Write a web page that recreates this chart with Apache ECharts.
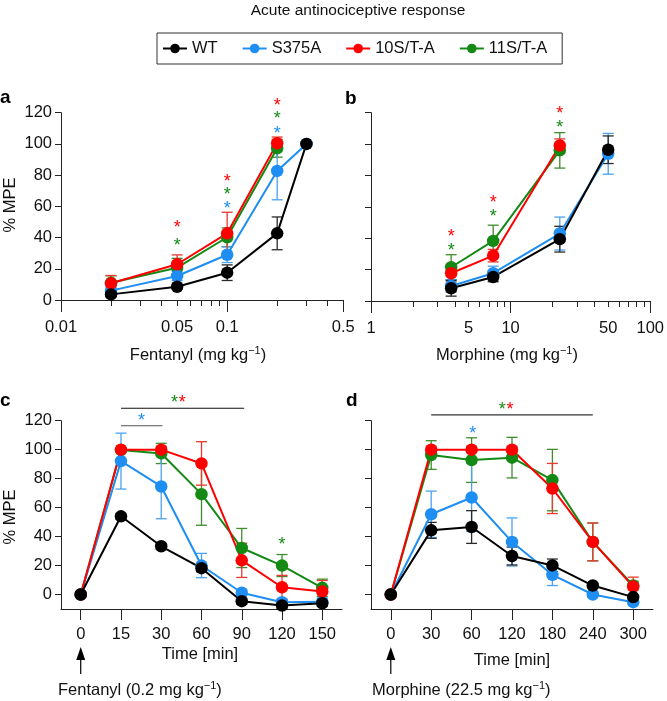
<!DOCTYPE html>
<html>
<head>
<meta charset="utf-8">
<script src="https://cdn.jsdelivr.net/npm/echarts@6/dist/echarts.min.js"></script>
<style>
  html, body { margin: 0; padding: 0; background: #fff; }
  #chart { width: 667px; height: 701px; }
</style>
</head>
<body>
<div id="chart"></div>
<script>
// ---- data ----
const groups = ['WT', 'S375A', '10S/T-A', '11S/T-A'];

// a: fentanyl dose response (% MPE, mean and SEM)
const fentDose = [0.02, 0.05, 0.1, 0.2, 0.3];
const fentWT = [3.6, 8.5, 17.5, 42.7, 100];
const fentWTerr = [1.5, 1.5, 5, 10.5, 0];
const fentS375A = [6, 15.4, 29, 82.7, 100];
const fentS375Aerr = [2, 3, 5, 18.5, 0];
const fent10ST = [10.7, 22.9, 42.7, 100.4, null];
const fent10STerr = [5, 6, 13.5, 4, 0];
const fent11ST = [11, 20.7, 40.2, 97.2, null];
const fent11STerr = [4.5, 6, 6, 5.7, 0];
const fentTickLabels = [0.01, 0.05, 0.1, 0.5];
const fentMajorTicks = [0.01, 0.1, 0.5];
const fentMinorTicks = [0.02, 0.03, 0.04, 0.05, 0.06, 0.07, 0.08, 0.09, 0.2, 0.3, 0.4];

// b: morphine dose response
const morphDose = [3.75, 7.5, 22.5, 50];
const morphWT = [8.1, 15.3, 39.4, 96.4];
const morphWTerr = [5, 3, 8.2, 8.8];
const morphS375A = [9.6, 17.7, 43, 93.8];
const morphS375Aerr = [4, 4.5, 10.5, 13];
const morph10ST = [17.7, 28.9, 99.1, null];
const morph10STerr = [5.6, 4, 4.2, 0];
const morph11ST = [21.5, 38.3, 96, null];
const morph11STerr = [8, 10, 11.3, 0];
const morphTickLabels = [1, 5, 10, 50, 100];
const morphMajorTicks = [1, 10, 100];
const morphMinorTicks = [2, 3, 4, 5, 6, 7, 8, 9, 20, 30, 40, 50, 60, 70, 80, 90];

// c: fentanyl 0.2 mg/kg time course
const timeC = ['0', '15', '30', '60', '90', '120', '150'];
const cWT = [0, 54, 33.3, 18.2, -4.6, -7.6, -6];
const cWTerr = [0, 2, 2, 2.5, 2, 2, 2];
const cS375A = [0, 92.1, 74.6, 20, 1.2, -5.3, -5];
const cS375Aerr = [0, 19.3, 22.3, 8.4, 2, 2, 2];
const c10ST = [0, 100, 100, 90.5, 23.6, 5, 2];
const c10STerr = [0, 0, 2, 15, 11.8, 8.2, 7.7];
const c11ST = [0, 99.7, 97.4, 69.3, 32.1, 20, 4.6];
const c11STerr = [0, 1.5, 7, 21.5, 13.5, 7.6, 6];

// d: morphine 22.5 mg/kg time course
const timeD = ['0', '30', '60', '120', '180', '240', '300'];
const dWT = [0, 44.3, 46.6, 26.6, 20.1, 6.2, -1.8];
const dWTerr = [0, 5.5, 11.3, 6.2, 4.4, 1.5, 1.5];
const dS375A = [0, 55.4, 67, 36.3, 13.6, 0, -5.3];
const dS375Aerr = [0, 16, 23.5, 16.6, 7.4, 1.5, 1.5];
const d10ST = [0, 100, 100, 100, 73.2, 36.3, 5.5];
const d10STerr = [0, 2, 2, 2, 17.3, 13.1, 6.5];
const d11ST = [0, 96.3, 92.8, 94.5, 79, 36.3, 6.2];
const d11STerr = [0, 9.9, 15.4, 14, 21.2, 13, 3];

const yTicks = [0, 20, 40, 60, 80, 100, 120];

// significance stars: [x, y, group]
const starsA = [[0.05, 48.7, '10S/T-A'], [0.05, 37, '11S/T-A'],
  [0.1, 78.4, '10S/T-A'], [0.1, 70, '11S/T-A'], [0.1, 60.7, 'S375A'],
  [0.2, 127, '10S/T-A'], [0.2, 118.5, '11S/T-A'], [0.2, 109, 'S375A']];
const starsB = [[3.75, 43.2, '10S/T-A'], [3.75, 34.7, '11S/T-A'],
  [7.5, 65, '10S/T-A'], [7.5, 56, '11S/T-A'],
  [22.5, 122, '10S/T-A'], [22.5, 113, '11S/T-A']];
// time panels: x is the time point index
const starsC = [[1.51, 122.4, 'S375A'], [2.33, 135.2, '11S/T-A'], [2.52, 135.2, '10S/T-A'], [5, 36.7, '11S/T-A']];
const starsD = [[2.03, 113.6, 'S375A'], [2.76, 130, '11S/T-A'], [2.95, 130, '10S/T-A']];
// brackets: [from index, to index, y]
const bracketsC = [[1, 2.03, 116.5], [1, 4.06, 128.6]];
const bracketsD = [[1, 5, 124]];

// ---- styles ----
const FONT = "'Liberation Sans', Arial, Helvetica, sans-serif";
const FS = 16.5;
const drawOrder = ['11S/T-A', 'S375A', '10S/T-A', 'WT'];
const lineColors = { 'WT': '#000000', 'S375A': '#1E8EF2', '10S/T-A': '#FF0000', '11S/T-A': '#148A14' };
const errColors = { 'WT': '#2a2a2a', 'S375A': '#4aa2f0', '10S/T-A': '#e83a30', '11S/T-A': '#3f8c2c' };
const bracketColorsC = ['#555555', '#111111'];
const bracketColorsD = ['#333333'];
const axisColor = '#222';

const chart = echarts.init(document.getElementById('chart'));

const lg = Math.log10;
const idx = (arr) => arr.map((_, i) => i);

const panels = [
  { xi: 0, yi: 0, xs: fentDose.map(lg), tx: lg,
    vals: { 'WT': fentWT, 'S375A': fentS375A, '10S/T-A': fent10ST, '11S/T-A': fent11ST },
    errs: { 'WT': fentWTerr, 'S375A': fentS375Aerr, '10S/T-A': fent10STerr, '11S/T-A': fent11STerr },
    stars: starsA },
  { xi: 2, yi: 1, xs: morphDose.map(lg), tx: lg,
    vals: { 'WT': morphWT, 'S375A': morphS375A, '10S/T-A': morph10ST, '11S/T-A': morph11ST },
    errs: { 'WT': morphWTerr, 'S375A': morphS375Aerr, '10S/T-A': morph10STerr, '11S/T-A': morph11STerr },
    stars: starsB },
  { xi: 4, yi: 2, xs: idx(timeC), tx: v => v,
    vals: { 'WT': cWT, 'S375A': cS375A, '10S/T-A': c10ST, '11S/T-A': c11ST },
    errs: { 'WT': cWTerr, 'S375A': cS375Aerr, '10S/T-A': c10STerr, '11S/T-A': c11STerr },
    stars: starsC, brackets: bracketsC, bracketColors: bracketColorsC },
  { xi: 5, yi: 3, xs: idx(timeD), tx: v => v,
    vals: { 'WT': dWT, 'S375A': dS375A, '10S/T-A': d10ST, '11S/T-A': d11ST },
    errs: { 'WT': dWTerr, 'S375A': dS375Aerr, '10S/T-A': d10STerr, '11S/T-A': d11STerr },
    stars: starsD, brackets: bracketsD, bracketColors: bracketColorsD }
];

// error bar with caps
function errRenderer(color) {
  return function (params, api) {
    const x = api.value(0), y = api.value(1), e = api.value(2);
    if (!e) return null;
    const top = api.coord([x, y + e]);
    const bot = api.coord([x, y - e]);
    const hw = 5.5;
    const style = { stroke: color, lineWidth: 1.3 };
    return {
      type: 'group',
      children: [
        { type: 'line', shape: { x1: top[0], y1: top[1], x2: bot[0], y2: bot[1] }, style },
        { type: 'line', shape: { x1: top[0] - hw, y1: top[1], x2: top[0] + hw, y2: top[1] }, style },
        { type: 'line', shape: { x1: bot[0] - hw, y1: bot[1], x2: bot[0] + hw, y2: bot[1] }, style }
      ]
    };
  };
}

const series = [];
panels.forEach(p => {
  const pts = {};
  groups.forEach(g => {
    pts[g] = [];
    p.vals[g].forEach((v, i) => {
      if (v != null) pts[g].push([p.xs[i], v, p.errs[g][i] || 0]);
    });
  });
  drawOrder.forEach(g => {
    series.push({
      type: 'custom', name: g + ' sem', xAxisIndex: p.xi, yAxisIndex: p.yi,
      silent: true, z: 1, clip: false,
      data: pts[g], renderItem: errRenderer(errColors[g])
    });
  });
  drawOrder.forEach(g => {
    series.push({
      type: 'line', name: g, xAxisIndex: p.xi, yAxisIndex: p.yi,
      data: pts[g].map(d => [d[0], d[1]]),
      symbol: 'circle', symbolSize: 12.5, showSymbol: true,
      lineStyle: { color: lineColors[g], width: 2 },
      itemStyle: { color: lineColors[g] },
      emphasis: { disabled: true }, z: 3
    });
  });
  // stars
  series.push({
    type: 'custom', xAxisIndex: p.xi, yAxisIndex: p.yi, silent: true, z: 5, clip: false,
    data: p.stars.map(s => [p.tx(s[0]), s[1], groups.indexOf(s[2])]),
    renderItem: (params, api) => {
      const pt = api.coord([api.value(0), api.value(1)]);
      return {
        type: 'text', x: pt[0], y: pt[1] + 4,
        style: { text: '*', fill: lineColors[groups[api.value(2)]], font: '18px ' + FONT, align: 'center', verticalAlign: 'middle' }
      };
    }
  });
  if (p.brackets) {
    series.push({
      type: 'custom', xAxisIndex: p.xi, yAxisIndex: p.yi, silent: true, z: 5, clip: false,
      data: p.brackets.map((b, i) => [b[0], b[2], b[1], i]),
      renderItem: (params, api) => {
        const a = api.coord([api.value(0), api.value(1)]);
        const b = api.coord([api.value(2), api.value(1)]);
        return { type: 'line', shape: { x1: a[0], y1: a[1], x2: b[0], y2: b[1] },
          style: { stroke: p.bracketColors[api.value(3)], lineWidth: 1.2 } };
      }
    });
    // injection arrow under time 0
    series.push({
      type: 'custom', xAxisIndex: p.xi, yAxisIndex: p.yi, silent: true, z: 5, clip: false,
      data: [[0, -10]],
      renderItem: (params, api) => {
        const o = api.coord([api.value(0), api.value(1)]);
        return { type: 'group', children: [
          { type: 'polygon', shape: { points: [[o[0], o[1] + 38], [o[0] - 4.5, o[1] + 51], [o[0] + 4.5, o[1] + 51]] }, style: { fill: '#000' } },
          { type: 'line', shape: { x1: o[0], y1: o[1] + 50, x2: o[0], y2: o[1] + 65 }, style: { stroke: '#000', lineWidth: 1.2 } }
        ] };
      }
    });
  }
});

const tickStyle = { color: axisColor, width: 1 };
const labelStyle = { color: '#111', fontSize: FS, fontFamily: FONT };
const fmtDose = v => String(+Math.pow(10, v).toPrecision(3));

function logAxes(grid, lo, hi, labels, major, minor) {
  return [
    { gridIndex: grid, type: 'value', position: 'bottom', min: lg(lo), max: lg(hi),
      axisLine: { onZero: false, lineStyle: { color: axisColor, width: 1 } },
      axisTick: { customValues: major.map(lg), length: 12, lineStyle: tickStyle },
      axisLabel: Object.assign({ customValues: labels.map(lg), formatter: fmtDose, margin: 19 }, labelStyle),
      splitLine: { show: false } },
    { gridIndex: grid, type: 'value', position: 'bottom', min: lg(lo), max: lg(hi),
      axisLine: { show: false },
      axisTick: { customValues: minor.map(lg), length: 6, lineStyle: tickStyle },
      axisLabel: { show: false }, splitLine: { show: false } }
  ];
}

function timeAxis(grid, labels) {
  return { gridIndex: grid, type: 'value', position: 'bottom', min: -0.49, max: 6.49,
    axisLine: { onZero: false, lineStyle: { color: axisColor, width: 1 } },
    axisTick: { customValues: idx(labels), length: 11, lineStyle: tickStyle },
    axisLabel: Object.assign({ customValues: idx(labels), formatter: v => labels[Math.round(v)], margin: 17 }, labelStyle),
    splitLine: { show: false } };
}

function yAxis(grid, min, showLabel) {
  return { gridIndex: grid, type: 'value', min: min, max: 120,
    axisLine: { show: true, onZero: false, lineStyle: { color: axisColor, width: 1 } },
    axisTick: { show: true, customValues: yTicks, length: 6, lineStyle: tickStyle },
    axisLabel: Object.assign({ show: showLabel, customValues: yTicks, margin: 9 }, labelStyle),
    splitLine: { show: false } };
}

function txt(text, x, y, extra) {
  return Object.assign({ type: 'text', x: x, y: y,
    style: { text: text, fill: '#111', font: FS + 'px ' + FONT, align: 'center', verticalAlign: 'middle' } }, extra || {});
}
function supTxt(main, x, y, align) {
  return { type: 'text', x: x, y: y,
    style: { text: '{n|' + main + '}{s|−1}{n|)}', align: align, verticalAlign: 'middle',
      rich: { n: { fontSize: FS, fontFamily: FONT, fill: '#111', lineHeight: 20 },
              s: { fontSize: 11, fontFamily: FONT, fill: '#111', lineHeight: 11, verticalAlign: 'top' } } } };
}
function panelLabel(t, x, y) {
  return { type: 'text', x: x, y: y,
    style: { text: t, fill: '#000', font: 'bold 19px ' + FONT, align: 'left', verticalAlign: 'middle' } };
}

const option = {
  animation: false,
  backgroundColor: '#fff',
  legend: {
    data: groups, left: 157, top: 33, orient: 'horizontal',
    itemWidth: 24, itemHeight: 12, itemGap: 24,
    padding: [7, 15, 7, 5],
    borderColor: '#333', borderWidth: 1,
    textStyle: { color: '#111', fontSize: FS, fontFamily: FONT },
    selectedMode: false
  },
  grid: [
    { left: 61, top: 112.7, width: 282.3, height: 187.3 },
    { left: 371, top: 112.7, width: 281.3, height: 188.3 },
    { left: 61, top: 420.7, width: 281, height: 188.3 },
    { left: 371, top: 420.7, width: 282, height: 188.3 }
  ],
  xAxis: [
    ...logAxes(0, 0.01, 0.5, fentTickLabels, fentMajorTicks, fentMinorTicks),
    ...logAxes(1, 1, 100, morphTickLabels, morphMajorTicks, morphMinorTicks),
    timeAxis(2, timeC),
    timeAxis(3, timeD)
  ],
  yAxis: [yAxis(0, 0, true), yAxis(1, 0, false), yAxis(2, -10, true), yAxis(3, -10, false)],
  graphic: [
    txt('Acute antinociceptive response', 358, 11, { style: { text: 'Acute antinociceptive response', fill: '#111', font: '15.5px ' + FONT, align: 'center', verticalAlign: 'middle' } }),
    panelLabel('a', 0, 98), panelLabel('b', 345, 99),
    panelLabel('c', 0, 401), panelLabel('d', 346, 401),
    txt('% MPE', 10, 205, { rotation: Math.PI / 2 }),
    txt('% MPE', 10, 517, { rotation: Math.PI / 2 }),
    supTxt('Fentanyl (mg kg', 198, 355, 'center'),
    supTxt('Morphine (mg kg', 507, 355, 'center'),
    txt('Time [min]', 200, 654),
    txt('Time [min]', 512, 660),
    supTxt('Fentanyl (0.2 mg kg', 58, 690, 'left'),
    supTxt('Morphine (22.5 mg kg', 372, 690, 'left')
  ],
  series: series
};

chart.setOption(option);
</script>
</body>
</html>
